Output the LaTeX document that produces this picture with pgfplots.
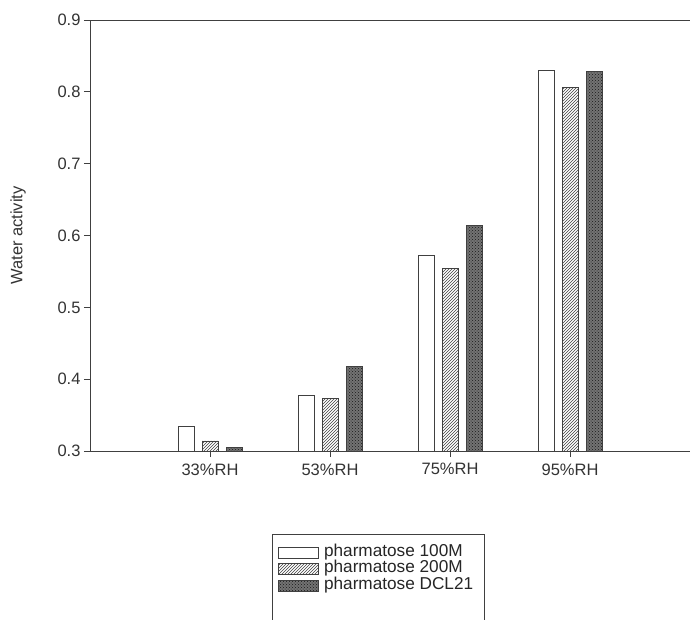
\documentclass[border=0pt]{standalone}
\usepackage{pgfplots}
\pgfplotsset{compat=1.18}
\usepackage{fontspec}
\setmainfont{Liberation Sans}
\usetikzlibrary{patterns}
\begin{document}
\begin{tikzpicture}
\begin{axis}[
  scale only axis, width=600pt, height=431pt,
  xmin=0, xmax=5, ymin=0.3, ymax=0.9,
  axis x line*=box, axis y line*=left,
  axis line style={black!75, line width=0.8pt},
  xtick={1,2,3,4}, xticklabels={33\%RH,53\%RH,75\%RH,95\%RH},
  ytick={0.3,0.4,0.5,0.6,0.7,0.8,0.9},
  xtick pos=lower, ytick pos=left,
  tick align=outside, major tick length=6pt,
  every tick/.style={black!75, line width=0.8pt},
  /pgf/number format/assume math mode=true,
  yticklabel style={/pgf/number format/fixed, /pgf/number format/fixed zerofill, /pgf/number format/precision=1, font=\fontsize{16.5}{18}\selectfont, text=black!80},
  xticklabel style={font=\fontsize{16.5}{18}\selectfont, text=black!80, yshift=-3pt},
  ylabel={Water activity},
  every axis y label/.style={at={(axis description cs:-0.12,0.5)}, rotate=90, anchor=center, font=\fontsize{16.5}{18}\selectfont, text=black!80},
  ybar, bar width=16pt,
  legend image code/.code={\draw[#1] (0pt,-5.5pt) rectangle (40pt,5.5pt);},
  legend style={at={(axis description cs:0.3033,-0.1926)}, anchor=north west,
    draw=black!75, line width=0.8pt, font=\fontsize{17.2}{18}\selectfont, text=black!85,
    inner xsep=6pt, inner ysep=10pt, row sep=0pt,
    nodes={inner ysep=0pt, inner xsep=5pt, text height=12pt, text depth=4.5pt},
    cells={anchor=west}},
  legend cell align=left,
]
\addplot[bar shift=-24pt, draw=black!75, line width=0.7pt, fill=white]
  coordinates {(1,0.334) (2,0.378) (3,0.573) (4,0.830)};
\addlegendentry{pharmatose 100M}
\addplot[bar shift=0pt, draw=black!75, line width=0.7pt, pattern=north east lines, pattern color=black!75]
  coordinates {(1,0.314) (2,0.373) (3,0.554) (4,0.806)};
\addlegendentry{pharmatose 200M}
\addplot[bar shift=24pt, draw=black!75, line width=0.7pt, fill=black!55, postaction={pattern=crosshatch dots, pattern color=black!90}]
  coordinates {(1,0.3046) (2,0.418) (3,0.614) (4,0.829)};
\addlegendentry{pharmatose DCL21}
\addlegendimage{empty legend}
\addlegendentry{\strut}
\end{axis}
\pgfresetboundingbox
\useasboundingbox (-90pt,-168pt) rectangle (600pt,451pt);
\end{tikzpicture}
\end{document}
